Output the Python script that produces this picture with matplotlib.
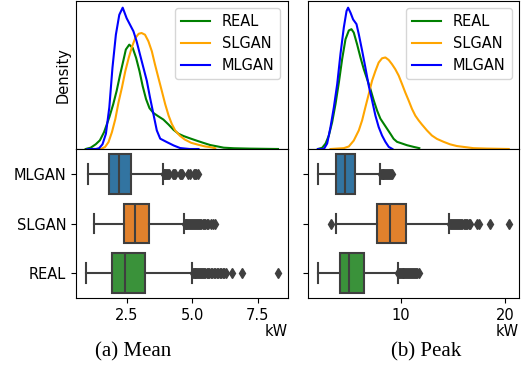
import matplotlib
matplotlib.use("Agg")
import matplotlib.pyplot as plt

# ---------------------------------------------------------------------------
# Data: daily mean and peak load (kW) for the real data and two generators
# ---------------------------------------------------------------------------
models = ["MLGAN", "SLGAN", "REAL"]          # box order, top to bottom
legend_order = ["REAL", "SLGAN", "MLGAN"]

# Density curves, mean load
mean_x_real = [0.94, 1.13, 1.32, 1.48, 1.64, 1.84, 1.99, 2.12, 2.24, 2.37, 2.47,
               2.60, 2.73, 2.86, 2.99, 3.11, 3.24, 3.37, 3.52, 3.71, 3.90, 4.10,
               4.29, 4.48, 4.67, 4.93, 5.18, 5.44, 5.69, 5.95, 6.20, 6.59, 7.20, 8.27]
mean_d_real = [0.000, 0.007, 0.025, 0.046, 0.090, 0.169, 0.239, 0.310, 0.389, 0.468,
               0.530, 0.556, 0.539, 0.486, 0.415, 0.336, 0.266, 0.218, 0.192, 0.174,
               0.157, 0.130, 0.102, 0.081, 0.069, 0.056, 0.044, 0.032, 0.021, 0.014,
               0.007, 0.004, 0.002, 0.000]

mean_x_slgan = [1.24, 1.52, 1.68, 1.81, 1.94, 2.07, 2.19, 2.32, 2.45, 2.58, 2.71,
                2.83, 2.96, 3.07, 3.20, 3.33, 3.46, 3.58, 3.71, 3.84, 3.97, 4.10,
                4.22, 4.35, 4.52, 4.71, 4.96, 5.22, 5.48, 5.73, 5.88]
mean_d_slgan = [0.000, 0.000, 0.011, 0.037, 0.090, 0.160, 0.248, 0.327, 0.415, 0.486,
                0.547, 0.591, 0.614, 0.618, 0.609, 0.574, 0.521, 0.451, 0.380, 0.310,
                0.239, 0.178, 0.134, 0.099, 0.072, 0.051, 0.033, 0.023, 0.014, 0.009,
                0.004]

mean_x_mlgan = [1.01, 1.33, 1.45, 1.58, 1.71, 1.84, 1.96, 2.09, 2.22, 2.35, 2.50,
                2.63, 2.76, 2.88, 3.01, 3.14, 3.27, 3.39, 3.52, 3.65, 3.78, 4.03,
                4.29, 4.54, 4.90, 5.24]
mean_d_mlgan = [0.000, 0.000, 0.004, 0.025, 0.081, 0.222, 0.433, 0.609, 0.715, 0.753,
                0.697, 0.662, 0.627, 0.574, 0.503, 0.433, 0.363, 0.275, 0.187, 0.099,
                0.055, 0.037, 0.019, 0.005, 0.000, 0.000]

# Density curves, peak load
peak_x_real = [2.10, 2.51, 2.83, 3.14, 3.46, 3.78, 4.10, 4.41, 4.73, 5.05, 5.30,
               5.52, 5.84, 6.16, 6.48, 6.79, 7.11, 7.43, 7.75, 8.06, 8.38, 8.70,
               9.02, 9.33, 9.65, 10.13, 10.60, 11.24, 11.78]
peak_d_real = [0.000, 0.003, 0.013, 0.032, 0.064, 0.107, 0.158, 0.213, 0.260, 0.281,
               0.284, 0.276, 0.248, 0.217, 0.189, 0.166, 0.142, 0.115, 0.091, 0.072,
               0.060, 0.048, 0.036, 0.024, 0.017, 0.013, 0.009, 0.005, 0.002]

peak_x_slgan = [3.30, 4.57, 5.05, 5.52, 6.00, 6.32, 6.63, 6.95, 7.27, 7.59, 7.90,
                8.22, 8.54, 8.86, 9.17, 9.49, 9.81, 10.13, 10.44, 10.76, 11.08,
                11.40, 11.71, 12.03, 12.51, 12.98, 13.46, 14.10, 14.73, 15.37,
                16.00, 16.95, 18.22, 20.32]
peak_d_slgan = [0.000, 0.002, 0.006, 0.020, 0.044, 0.068, 0.099, 0.130, 0.162, 0.185,
                0.205, 0.215, 0.217, 0.211, 0.201, 0.189, 0.174, 0.154, 0.134, 0.115,
                0.095, 0.079, 0.068, 0.058, 0.044, 0.032, 0.024, 0.017, 0.011, 0.007,
                0.005, 0.002, 0.001, 0.000]

peak_x_mlgan = [2.10, 2.67, 2.98, 3.30, 3.62, 3.94, 4.25, 4.57, 4.83, 4.98, 5.21,
                5.46, 5.78, 6.00, 6.32, 6.63, 6.95, 7.27, 7.59, 7.90, 8.22, 8.54,
                8.86, 9.21]
peak_d_mlgan = [0.000, 0.000, 0.013, 0.052, 0.099, 0.154, 0.225, 0.288, 0.327, 0.335,
                0.323, 0.307, 0.296, 0.272, 0.233, 0.193, 0.150, 0.115, 0.079, 0.052,
                0.032, 0.017, 0.005, 0.000]

# Box statistics (kW): whisker low, Q1, median, Q3, whisker high
mean_box = {
    "MLGAN": [1.01, 1.81, 2.22, 2.65, 3.89],
    "SLGAN": [1.24, 2.41, 2.83, 3.34, 4.70],
    "REAL":  [0.94, 1.94, 2.42, 3.19, 5.01],
}
peak_box = {
    "MLGAN": [2.10, 3.84, 4.67, 5.65, 8.06],
    "SLGAN": [3.81, 7.77, 9.01, 10.50, 14.63],
    "REAL":  [2.10, 4.19, 5.10, 6.48, 9.71],
}

# Outliers beyond the whiskers (kW)
mean_fliers = {
    "MLGAN": [3.91, 3.94, 3.97, 4.00, 4.03, 4.06, 4.10, 4.26, 4.30, 4.34, 4.52,
              4.57, 4.62, 4.84, 4.90, 5.06, 5.11, 5.16, 5.22],
    "SLGAN": [4.72, 4.75, 4.78, 4.81, 4.84, 4.87, 4.90, 4.94, 4.98, 5.02, 5.06,
              5.10, 5.14, 5.18, 5.22, 5.26, 5.30, 5.35, 5.40, 5.45, 5.50, 5.56,
              5.62, 5.70, 5.78, 5.86],
    "REAL":  [5.03, 5.06, 5.09, 5.12, 5.15, 5.18, 5.22, 5.26, 5.30, 5.34, 5.38,
              5.42, 5.46, 5.50, 5.55, 5.60, 5.65, 5.70, 5.76, 5.82, 5.88, 5.94,
              6.00, 6.05, 6.10, 6.16, 6.22, 6.28, 6.52, 6.88, 8.27],
}
peak_fliers = {
    "MLGAN": [8.12, 8.20, 8.28, 8.36, 8.44, 8.52, 8.60, 8.70, 8.80, 8.90, 9.00,
              9.10, 9.18],
    "SLGAN": [3.30, 14.70, 14.80, 14.90, 15.00, 15.10, 15.20, 15.30, 15.40, 15.50,
              15.60, 15.70, 15.80, 15.90, 16.00, 16.10, 16.20, 16.35, 16.50, 16.65,
              17.30, 17.45, 18.50, 20.30],
    "REAL":  [9.78, 9.86, 9.94, 10.02, 10.10, 10.18, 10.26, 10.34, 10.42, 10.50,
              10.60, 10.70, 10.80, 10.90, 11.00, 11.10, 11.20, 11.30, 11.40, 11.50,
              11.60, 11.72],
}

mean_ticks = [2.5, 5.0, 7.5]
mean_ticklabels = ["2.5", "5.0", "7.5"]
peak_ticks = [10, 20]
peak_ticklabels = ["10", "20"]

# ---------------------------------------------------------------------------
# Styling
# ---------------------------------------------------------------------------
kde_colors = {"REAL": "green", "SLGAN": "orange", "MLGAN": "blue"}
box_colors = {"MLGAN": "#3274a1", "SLGAN": "#e1812c", "REAL": "#3a923a"}
gray = "#3f3f3f"

plt.rcParams["font.family"] = ["DejaVu Sans"]
plt.rcParams["font.size"] = 10.5

W, H = 524, 366
fig = plt.figure(figsize=(W / 100, H / 100), dpi=100)


def frac_box(x0, x1, y0, y1):
    """Pixel rectangle (top-left origin) to figure fractions."""
    return [x0 / W, 1 - y1 / H, (x1 - x0) / W, (y1 - y0) / H]


panels = [
    dict(x0=76, x1=287.7, kde={"REAL": (mean_x_real, mean_d_real),
                               "SLGAN": (mean_x_slgan, mean_d_slgan),
                               "MLGAN": (mean_x_mlgan, mean_d_mlgan)},
         box=mean_box, fliers=mean_fliers, xlim=(0.57, 8.64),
         ticks=mean_ticks, ticklabels=mean_ticklabels, caption="(a) Mean",
         cap_x=133, first=True),
    dict(x0=308, x1=519, kde={"REAL": (peak_x_real, peak_d_real),
                              "SLGAN": (peak_x_slgan, peak_d_slgan),
                              "MLGAN": (peak_x_mlgan, peak_d_mlgan)},
         box=peak_box, fliers=peak_fliers, xlim=(1.15, 21.3),
         ticks=peak_ticks, ticklabels=peak_ticklabels, caption="(b) Peak",
         cap_x=426, first=False),
]

for p in panels:
    ax_kde = fig.add_axes(frac_box(p["x0"], p["x1"], 0.6, 149))
    ax_box = fig.add_axes(frac_box(p["x0"], p["x1"], 149, 298))

    # density curves
    peak_max = 0
    for name in legend_order:
        xs, ds = p["kde"][name]
        ax_kde.plot(xs, ds, color=kde_colors[name], lw=1.5, label=name)
        peak_max = max(peak_max, max(ds))
    ax_kde.set_xlim(*p["xlim"])
    ax_kde.set_ylim(0, peak_max * 1.05)
    ax_kde.set_xticks([])
    ax_kde.set_yticks([])
    if p["first"]:
        ax_kde.set_ylabel("Density")
    ax_kde.legend(loc="upper right")

    # box plots
    stats = []
    for name in models:
        lo, q1, med, q3, hi = p["box"][name]
        stats.append(dict(whislo=lo, q1=q1, med=med, q3=q3, whishi=hi,
                          fliers=p["fliers"][name], label=name))
    arts = ax_box.bxp(stats, positions=range(len(models)), widths=0.8,
                      orientation="horizontal", patch_artist=True,
                      boxprops=dict(edgecolor=gray, linewidth=1.5),
                      medianprops=dict(color=gray, linewidth=1.5),
                      whiskerprops=dict(color=gray, linewidth=1.5),
                      capprops=dict(color=gray, linewidth=1.5),
                      flierprops=dict(marker="d", markersize=5,
                                      markerfacecolor=gray,
                                      markeredgecolor=gray, linestyle="none"))
    for patch, name in zip(arts["boxes"], models):
        patch.set_facecolor(box_colors[name])
    ax_box.set_ylim(2.5, -0.5)
    ax_box.set_xlim(*p["xlim"])
    ax_box.set_xticks(p["ticks"])
    ax_box.set_xticklabels(p["ticklabels"])
    ax_box.set_yticks(range(len(models)))
    if p["first"]:
        ax_box.set_yticklabels(models)
    else:
        ax_box.set_yticklabels([])
    ax_box.set_xlabel("kW", loc="right", labelpad=1)

    fig.text(p["cap_x"] / W, 1 - 352 / H, p["caption"], ha="center",
             va="center", fontsize=15, family="Liberation Serif")

fig.savefig("out.png", dpi=100)
